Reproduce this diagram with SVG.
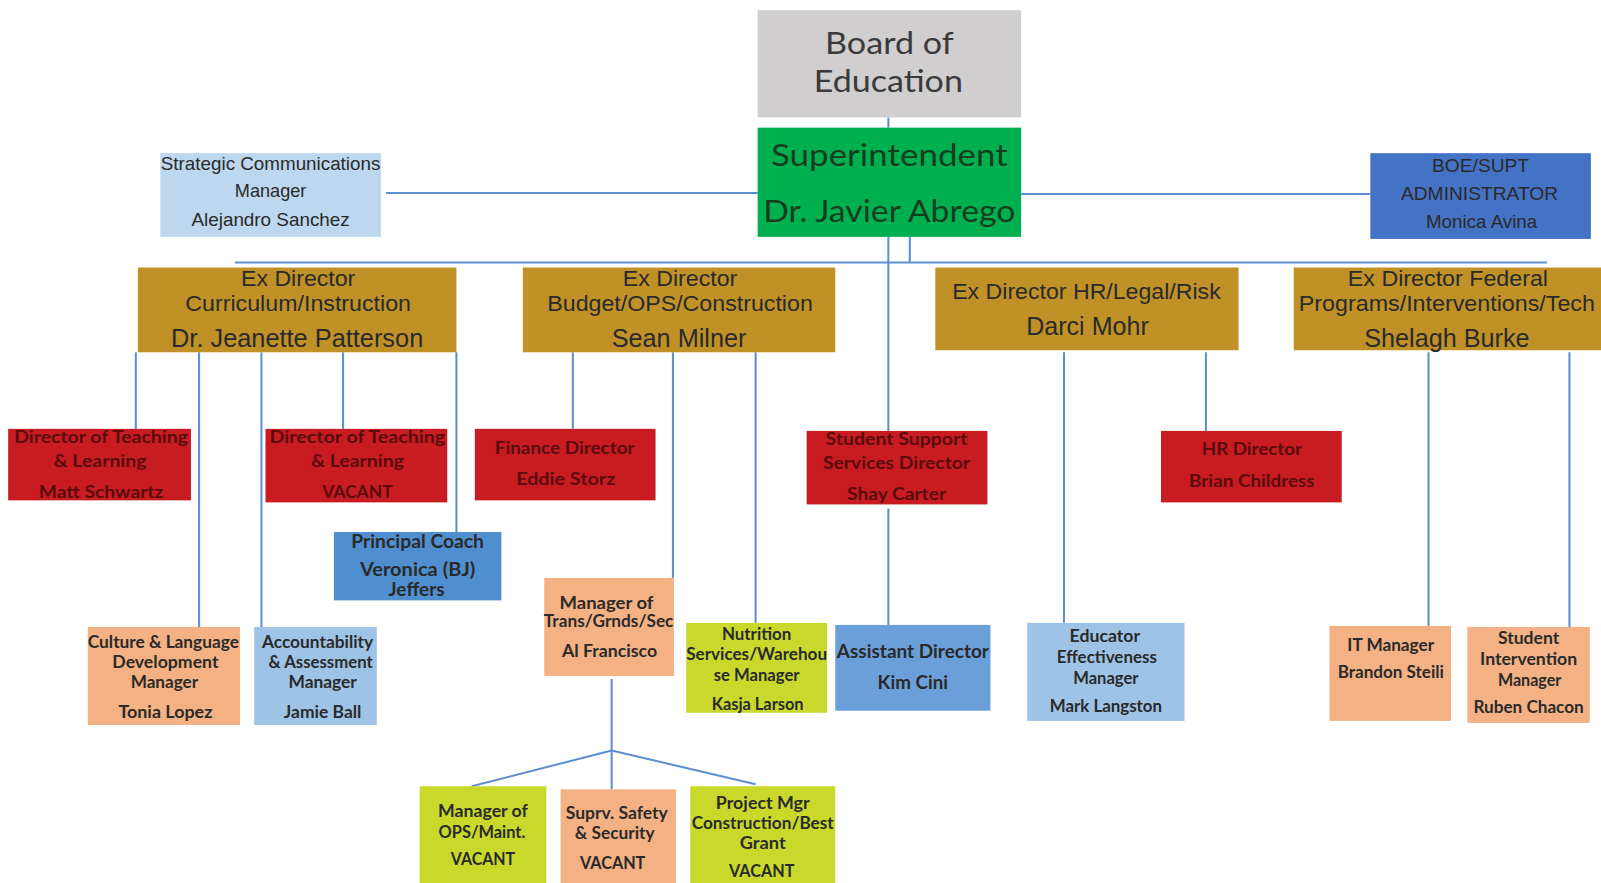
<svg xmlns="http://www.w3.org/2000/svg" width="1601" height="883" viewBox="0 0 1601 883">
<style>
.n{font-family:"Liberation Sans",Arial,sans-serif;text-anchor:middle;fill:#2a2a2a}
.c{font-family:Lato,"Open Sans",sans-serif;font-weight:bold;text-anchor:middle;fill:#2a2a2a}
.r{font-family:Lato,"Open Sans",sans-serif;font-weight:bold;text-anchor:middle;fill:#5a0c0c}
.b{font-family:Lato,"Open Sans",sans-serif;text-anchor:middle}
.gold{fill:#bf9126}.red{fill:#c81b22}.org{fill:#f4b183}.lb{fill:#9dc3e6}.yg{fill:#c8d92b}
.cn{stroke:#5b8fd0;stroke-width:2;fill:none}
</style>
<rect width="1601" height="883" fill="#ffffff"/>
<g transform="scale(1.0211)">
<g id="connectors">
<line class="cn" x1="870" y1="115" x2="870" y2="125"/>
<line class="cn" x1="378" y1="189" x2="742" y2="189"/>
<line class="cn" x1="1000" y1="190" x2="1342" y2="190"/>
<line class="cn" x1="230" y1="257" x2="1515" y2="257" stroke-width="2.5"/>
<line class="cn" x1="870" y1="232" x2="870" y2="422" stroke-width="3"/>
<line class="cn" x1="891" y1="232" x2="891" y2="257" stroke-width="2.5"/>
<line class="cn" x1="870" y1="498" x2="870" y2="612" stroke-width="3"/>
<line class="cn" x1="133" y1="345" x2="133" y2="420"/>
<line class="cn" x1="195" y1="345" x2="195" y2="614"/>
<line class="cn" x1="256" y1="345" x2="256" y2="614" stroke-width="2.5"/>
<line class="cn" x1="336" y1="345" x2="336" y2="420" stroke-width="2.5"/>
<line class="cn" x1="447" y1="345" x2="447" y2="521" stroke-width="2.5"/>
<line class="cn" x1="561" y1="345" x2="561" y2="420"/>
<line class="cn" x1="659" y1="345" x2="659" y2="566" stroke-width="2.5"/>
<line class="cn" x1="740" y1="345" x2="740" y2="610" stroke-width="2.5"/>
<line class="cn" x1="1042" y1="345" x2="1042" y2="610" stroke-width="2.5"/>
<line class="cn" x1="1181" y1="345" x2="1181" y2="422" stroke-width="3"/>
<line class="cn" x1="1399" y1="345" x2="1399" y2="613" stroke-width="2.5"/>
<line class="cn" x1="1537" y1="345" x2="1537" y2="614" stroke-width="3"/>
<line class="cn" x1="599" y1="665" x2="599" y2="773" stroke-width="3"/>
<line class="cn" x1="599" y1="735" x2="462" y2="770" stroke-width="3"/>
<line class="cn" x1="599" y1="735" x2="740" y2="768" stroke-width="3"/>
</g>
<g id="board">
<rect x="742" y="10" width="258" height="105" fill="#d0cece"/>
<text class="b" x="871" y="52.5" font-size="30" fill="#3a3a3a" textLength="126" lengthAdjust="spacingAndGlyphs">Board of</text>
<text class="b" x="870" y="90.5" font-size="30" fill="#3a3a3a" textLength="146" lengthAdjust="spacingAndGlyphs">Education</text>
</g>
<g id="superintendent">
<rect x="742" y="125" width="258" height="107" fill="#00b050"/>
<text class="b" x="871" y="162.5" font-size="30" fill="#173d1f" textLength="232" lengthAdjust="spacingAndGlyphs">Superintendent</text>
<text class="b" x="871" y="217.5" font-size="30" fill="#173d1f" textLength="247" lengthAdjust="spacingAndGlyphs">Dr. Javier Abrego</text>
</g>
<g id="strategic">
<rect x="157" y="150" width="216" height="82" fill="#bdd7ee"/>
<text class="n" x="265" y="166" font-size="18" textLength="215" lengthAdjust="spacingAndGlyphs">Strategic Communications</text>
<text class="n" x="265" y="193" font-size="18" textLength="70" lengthAdjust="spacingAndGlyphs">Manager</text>
<text class="n" x="265" y="221" font-size="18" textLength="155" lengthAdjust="spacingAndGlyphs">Alejandro Sanchez</text>
</g>
<g id="boe-admin">
<rect x="1342" y="150" width="216" height="84" fill="#4472c4"/>
<text class="n" x="1450" y="168" font-size="18" fill="#1c2540" textLength="95" lengthAdjust="spacingAndGlyphs">BOE/SUPT</text>
<text class="n" x="1449" y="196" font-size="18" fill="#1c2540" textLength="154" lengthAdjust="spacingAndGlyphs">ADMINISTRATOR</text>
<text class="n" x="1451" y="223" font-size="18" fill="#1c2540" textLength="109" lengthAdjust="spacingAndGlyphs">Monica Avina</text>
</g>
<g id="exdir-curriculum">
<rect class="gold" x="135" y="262" width="312" height="83"/>
<text class="n" x="292" y="280" font-size="22" textLength="112" lengthAdjust="spacingAndGlyphs">Ex Director</text>
<text class="n" x="292" y="305" font-size="22" textLength="221" lengthAdjust="spacingAndGlyphs">Curriculum/Instruction</text>
<text class="n" x="291" y="340" font-size="25" textLength="247" lengthAdjust="spacingAndGlyphs">Dr. Jeanette Patterson</text>
</g>
<g id="exdir-budget">
<rect class="gold" x="512" y="262" width="306" height="83"/>
<text class="n" x="666" y="280" font-size="22" textLength="112" lengthAdjust="spacingAndGlyphs">Ex Director</text>
<text class="n" x="666" y="305" font-size="22" textLength="260" lengthAdjust="spacingAndGlyphs">Budget/OPS/Construction</text>
<text class="n" x="665" y="340" font-size="25" textLength="132" lengthAdjust="spacingAndGlyphs">Sean Milner</text>
</g>
<g id="exdir-hr">
<rect class="gold" x="916" y="262" width="297" height="81"/>
<text class="n" x="1064" y="293" font-size="22" textLength="263" lengthAdjust="spacingAndGlyphs">Ex Director HR/Legal/Risk</text>
<text class="n" x="1065" y="328" font-size="25" textLength="120" lengthAdjust="spacingAndGlyphs">Darci Mohr</text>
</g>
<g id="exdir-federal">
<rect class="gold" x="1267" y="262" width="301" height="81"/>
<text class="n" x="1418" y="280" font-size="22" textLength="196" lengthAdjust="spacingAndGlyphs">Ex Director Federal</text>
<text class="n" x="1417" y="305" font-size="22" textLength="290" lengthAdjust="spacingAndGlyphs">Programs/Interventions/Tech</text>
<text class="n" x="1417" y="340" font-size="25" textLength="162" lengthAdjust="spacingAndGlyphs">Shelagh Burke</text>
</g>
<g id="dtl-schwartz">
<rect class="red" x="8" y="420" width="179" height="70"/>
<text class="r" x="99" y="434" font-size="17" textLength="170" lengthAdjust="spacingAndGlyphs">Director of Teaching</text>
<text class="r" x="98" y="457" font-size="17" textLength="91" lengthAdjust="spacingAndGlyphs">&amp; Learning</text>
<text class="r" x="99" y="488" font-size="17" textLength="122" lengthAdjust="spacingAndGlyphs">Matt Schwartz</text>
</g>
<g id="dtl-vacant">
<rect class="red" x="260" y="420" width="178" height="72"/>
<text class="r" x="350" y="434" font-size="17" textLength="172" lengthAdjust="spacingAndGlyphs">Director of Teaching</text>
<text class="r" x="350" y="457" font-size="17" textLength="91" lengthAdjust="spacingAndGlyphs">&amp; Learning</text>
<text class="r" x="350" y="488" font-size="17" textLength="69" lengthAdjust="spacingAndGlyphs">VACANT</text>
</g>
<g id="finance">
<rect class="red" x="465" y="420" width="177" height="70"/>
<text class="r" x="553" y="445" font-size="17" textLength="137" lengthAdjust="spacingAndGlyphs">Finance Director</text>
<text class="r" x="554" y="475" font-size="17" textLength="97" lengthAdjust="spacingAndGlyphs">Eddie Storz</text>
</g>
<g id="student-support">
<rect class="red" x="790" y="422" width="177" height="72"/>
<text class="r" x="878" y="436" font-size="17" textLength="139" lengthAdjust="spacingAndGlyphs">Student Support</text>
<text class="r" x="878" y="459" font-size="17" textLength="144" lengthAdjust="spacingAndGlyphs">Services Director</text>
<text class="r" x="878" y="490" font-size="17" textLength="97" lengthAdjust="spacingAndGlyphs">Shay Carter</text>
</g>
<g id="hr-director">
<rect class="red" x="1137" y="422" width="177" height="70"/>
<text class="r" x="1226" y="446" font-size="17" textLength="98" lengthAdjust="spacingAndGlyphs">HR Director</text>
<text class="r" x="1226" y="477" font-size="17" textLength="123" lengthAdjust="spacingAndGlyphs">Brian Childress</text>
</g>
<g id="principal-coach">
<rect x="327" y="521" width="164" height="67" fill="#4f8fcf"/>
<text class="c" x="409" y="537" font-size="18" fill="#1c2a40" textLength="130" lengthAdjust="spacingAndGlyphs">Principal Coach</text>
<text class="c" x="409" y="564" font-size="18" fill="#1c2a40" textLength="113" lengthAdjust="spacingAndGlyphs">Veronica (BJ)</text>
<text class="c" x="408" y="584" font-size="18" fill="#1c2a40" textLength="55" lengthAdjust="spacingAndGlyphs">Jeffers</text>
</g>
<g id="culture">
<rect class="org" x="86" y="614" width="149" height="96"/>
<text class="c" x="160" y="635" font-size="16" textLength="148" lengthAdjust="spacingAndGlyphs">Culture &amp; Language</text>
<text class="c" x="162" y="654" font-size="16" textLength="104" lengthAdjust="spacingAndGlyphs">Development</text>
<text class="c" x="161" y="674" font-size="16" textLength="66" lengthAdjust="spacingAndGlyphs">Manager</text>
<text class="c" x="162" y="703" font-size="16" textLength="92" lengthAdjust="spacingAndGlyphs">Tonia Lopez</text>
</g>
<g id="accountability">
<rect class="lb" x="249" y="614" width="120" height="96"/>
<text class="c" x="311" y="635" font-size="16" textLength="109" lengthAdjust="spacingAndGlyphs">Accountability</text>
<text class="c" x="314" y="654" font-size="16" textLength="102" lengthAdjust="spacingAndGlyphs">&amp; Assessment</text>
<text class="c" x="316" y="674" font-size="16" textLength="67" lengthAdjust="spacingAndGlyphs">Manager</text>
<text class="c" x="316" y="703" font-size="16" textLength="76" lengthAdjust="spacingAndGlyphs">Jamie Ball</text>
</g>
<g id="trans">
<rect class="org" x="533" y="566" width="127" height="96"/>
<text class="c" x="594" y="596" font-size="16" textLength="92" lengthAdjust="spacingAndGlyphs">Manager of</text>
<text class="c" x="596" y="614" font-size="16" textLength="127" lengthAdjust="spacingAndGlyphs">Trans/Grnds/Sec</text>
<text class="c" x="597" y="643" font-size="16" textLength="93" lengthAdjust="spacingAndGlyphs">Al Francisco</text>
</g>
<g id="nutrition">
<rect class="yg" x="672" y="610" width="138" height="88"/>
<text class="c" x="741" y="627" font-size="16" textLength="68" lengthAdjust="spacingAndGlyphs">Nutrition</text>
<text class="c" x="741" y="646" font-size="16" textLength="138" lengthAdjust="spacingAndGlyphs">Services/Warehou</text>
<text class="c" x="741" y="667" font-size="16" textLength="84" lengthAdjust="spacingAndGlyphs">se Manager</text>
<text class="c" x="742" y="695" font-size="16" textLength="90" lengthAdjust="spacingAndGlyphs">Kasja Larson</text>
</g>
<g id="assistant-director">
<rect x="818" y="612" width="152" height="84" fill="#6b9fd9"/>
<text class="c" x="894" y="644" font-size="18" fill="#1c2a40" textLength="149" lengthAdjust="spacingAndGlyphs">Assistant Director</text>
<text class="c" x="894" y="675" font-size="18" fill="#1c2a40" textLength="69" lengthAdjust="spacingAndGlyphs">Kim Cini</text>
</g>
<g id="educator">
<rect class="lb" x="1006" y="610" width="154" height="96"/>
<text class="c" x="1082" y="629" font-size="16" textLength="69" lengthAdjust="spacingAndGlyphs">Educator</text>
<text class="c" x="1084" y="649" font-size="16" textLength="98" lengthAdjust="spacingAndGlyphs">Effectiveness</text>
<text class="c" x="1083" y="670" font-size="16" textLength="64" lengthAdjust="spacingAndGlyphs">Manager</text>
<text class="c" x="1083" y="697" font-size="16" textLength="110" lengthAdjust="spacingAndGlyphs">Mark Langston</text>
</g>
<g id="it-manager">
<rect class="org" x="1302" y="613" width="119" height="93"/>
<text class="c" x="1362" y="638" font-size="16" textLength="85" lengthAdjust="spacingAndGlyphs">IT Manager</text>
<text class="c" x="1362" y="664" font-size="16" textLength="104" lengthAdjust="spacingAndGlyphs">Brandon Steili</text>
</g>
<g id="student-intervention">
<rect class="org" x="1437" y="614" width="120" height="94"/>
<text class="c" x="1497" y="631" font-size="16" textLength="60" lengthAdjust="spacingAndGlyphs">Student</text>
<text class="c" x="1497" y="651" font-size="16" textLength="95" lengthAdjust="spacingAndGlyphs">Intervention</text>
<text class="c" x="1498" y="672" font-size="16" textLength="62" lengthAdjust="spacingAndGlyphs">Manager</text>
<text class="c" x="1497" y="698" font-size="16" textLength="108" lengthAdjust="spacingAndGlyphs">Ruben Chacon</text>
</g>
<g id="ops-maint">
<rect class="yg" x="411" y="770" width="124" height="100"/>
<text class="c" x="473" y="800" font-size="16" textLength="88" lengthAdjust="spacingAndGlyphs">Manager of</text>
<text class="c" x="472" y="821" font-size="16" textLength="85" lengthAdjust="spacingAndGlyphs">OPS/Maint.</text>
<text class="c" x="473" y="847" font-size="16" textLength="63" lengthAdjust="spacingAndGlyphs">VACANT</text>
</g>
<g id="safety">
<rect class="org" x="549" y="773" width="113" height="97"/>
<text class="c" x="604" y="802" font-size="16" textLength="100" lengthAdjust="spacingAndGlyphs">Suprv. Safety</text>
<text class="c" x="602" y="822" font-size="16" textLength="78" lengthAdjust="spacingAndGlyphs">&amp; Security</text>
<text class="c" x="600" y="851" font-size="16" textLength="64" lengthAdjust="spacingAndGlyphs">VACANT</text>
</g>
<g id="project-mgr">
<rect class="yg" x="676" y="770" width="142" height="100"/>
<text class="c" x="747" y="792" font-size="16" textLength="92" lengthAdjust="spacingAndGlyphs">Project Mgr</text>
<text class="c" x="747" y="812" font-size="16" textLength="139" lengthAdjust="spacingAndGlyphs">Construction/Best</text>
<text class="c" x="747" y="831" font-size="16" textLength="45" lengthAdjust="spacingAndGlyphs">Grant</text>
<text class="c" x="746" y="859" font-size="16" textLength="64" lengthAdjust="spacingAndGlyphs">VACANT</text>
</g>
</g>
</svg>
